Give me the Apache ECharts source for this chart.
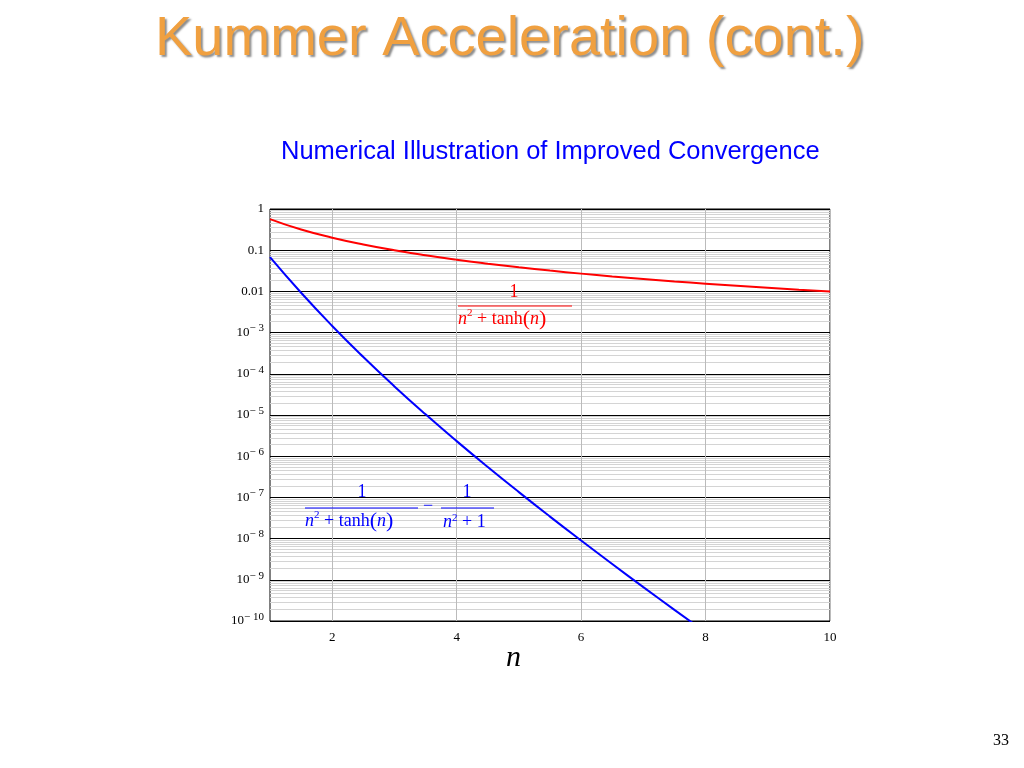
<!DOCTYPE html>
<html><head><meta charset="utf-8">
<script src="https://cdn.jsdelivr.net/npm/echarts@6/dist/echarts.min.js"></script>
<style>html,body{margin:0;background:#fff}#c{width:1024px;height:768px}</style>
</head><body><div id="c"></div>
<script>
// values
var nValues = [1, 1.5, 2, 2.5, 3, 3.5, 4, 4.5, 5, 5.5, 6, 6.5, 7, 7.5, 8, 8.5, 9, 9.5, 10];
var redValues = [0.568, 0.317, 0.2015, 0.138, 0.1, 0.0755, 0.0588, 0.0471, 0.0385, 0.032, 0.027,
  0.0231, 0.02, 0.01747, 0.01538, 0.01365, 0.0122, 0.01096, 0.0099];
var blueValues = [0.0677, 0.00925, 0.001449, 2.552e-4, 4.947e-5, 1.038e-5, 2.321e-6, 5.466e-7,
  1.343e-7, 3.42e-8, 8.98e-9, 2.417e-9, 6.65e-10, 1.867e-10, 5.33e-11];
var xTicks = [2, 4, 6, 8, 10];

function pairs(ys) { return ys.map(function (y, i) { return [nValues[i], y]; }); }

var chart = echarts.init(document.getElementById('c'));
var serif = 'Liberation Serif';
function frac(color) {
  return { i: { fontStyle: 'italic', fontFamily: serif, fontSize: 18, fill: color },
    p: { fontFamily: serif, fontSize: 22, fill: color },
    s: { fontSize: 11, fontFamily: serif, fill: color, verticalAlign: 'top', padding: [0, 0, 8, 0] } };
}
chart.setOption({
  animation: false,
  grid: { left: 270, right: 194, top: 209, bottom: 147, show: true, borderColor: '#000', borderWidth: 1 },
  xAxis: {
    type: 'value', min: 1, max: 10,
    axisLine: { show: false }, axisTick: { show: false, customValues: xTicks },
    axisLabel: { customValues: xTicks, fontFamily: serif, fontSize: 13, color: '#000', margin: 10 },
    splitLine: { show: true, lineStyle: { color: '#bbb', width: 1 } }
  },
  yAxis: {
    type: 'log', logBase: 10, min: 1e-10, max: 1, interval: 1,
    axisLine: { show: false }, axisTick: { show: false },
    axisLabel: {
      fontFamily: serif, fontSize: 13, color: '#000', margin: 6,
      formatter: function (v) {
        var e = Math.round(Math.log10(v));
        if (e >= -2) return String(Math.pow(10, e).toFixed(-e));
        return '10{s|− ' + (-e) + '}';
      },
      rich: { s: { fontSize: 11, fontFamily: serif, verticalAlign: 'bottom', padding: [0, 0, 8, 0] } }
    },
    splitLine: { show: true, lineStyle: { color: '#000', width: 1 } },
    minorTick: { show: false, splitNumber: 10 },
    minorSplitLine: { show: true, lineStyle: { color: '#d4d4d4', width: 1 } }
  },
  series: [
    { type: 'line', data: pairs(redValues), smooth: true, showSymbol: false, clip: true,
      lineStyle: { color: '#f00', width: 2 } },
    { type: 'line', data: pairs(blueValues), smooth: true, showSymbol: false, clip: true,
      lineStyle: { color: '#00f', width: 2 } }
  ],
  graphic: { elements: [
    { type: 'text', left: 155, top: 12, style: { text: 'Kummer Acceleration (cont.)', fontFamily: 'Liberation Sans',
      fontSize: 56, fill: '#f0a040', textShadowColor: 'rgba(0,0,0,0.45)', textShadowOffsetX: 2, textShadowOffsetY: 2, textShadowBlur: 2 } },
    { type: 'text', left: 281, top: 139, style: { text: 'Numerical Illustration of Improved Convergence',
      fontFamily: 'Liberation Sans', fontSize: 25.5, fill: '#00f' } },
    // red formula
    { type: 'text', z: 101, x: 514, y: 283, style: { text: '1', fontFamily: serif, fontSize: 18, fill: '#f00', align: 'center' } },
    { type: 'line', z: 101, shape: { x1: 458, y1: 306, x2: 572, y2: 306 }, style: { stroke: '#f00', lineWidth: 1 } },
    { type: 'text', z: 101, x: 458, y: 308, style: { text: '{i|n}{s|2} + tanh{p|(}{i|n}{p|)}', fontFamily: serif, fontSize: 18, fill: '#f00', rich: frac('#f00') } },
    // blue formula
    { type: 'text', z: 101, x: 362, y: 483, style: { text: '1', fontFamily: serif, fontSize: 18, fill: '#00f', align: 'center' } },
    { type: 'line', z: 101, shape: { x1: 305, y1: 508, x2: 418, y2: 508 }, style: { stroke: '#00f', lineWidth: 1 } },
    { type: 'text', z: 101, x: 305, y: 510, style: { text: '{i|n}{s|2} + tanh{p|(}{i|n}{p|)}', fontFamily: serif, fontSize: 18, fill: '#00f', rich: frac('#00f') } },
    { type: 'text', z: 101, x: 423, y: 497, style: { text: '−', fontFamily: serif, fontSize: 18, fill: '#00f' } },
    { type: 'text', z: 101, x: 467, y: 483, style: { text: '1', fontFamily: serif, fontSize: 18, fill: '#00f', align: 'center' } },
    { type: 'line', z: 101, shape: { x1: 441, y1: 508, x2: 494, y2: 508 }, style: { stroke: '#00f', lineWidth: 1 } },
    { type: 'text', z: 101, x: 443, y: 513, style: { text: '{i|n}{s|2} + 1', fontFamily: serif, fontSize: 18, fill: '#00f', rich: frac('#00f') } },
    { type: 'text', x: 506, y: 643, style: { text: 'n', fontFamily: serif, fontStyle: 'italic', fontSize: 30, fill: '#000' } },
    { type: 'text', x: 993, y: 733, style: { text: '33', fontFamily: serif, fontSize: 16, fill: '#000' } }
  ] }
});
</script></body></html>
